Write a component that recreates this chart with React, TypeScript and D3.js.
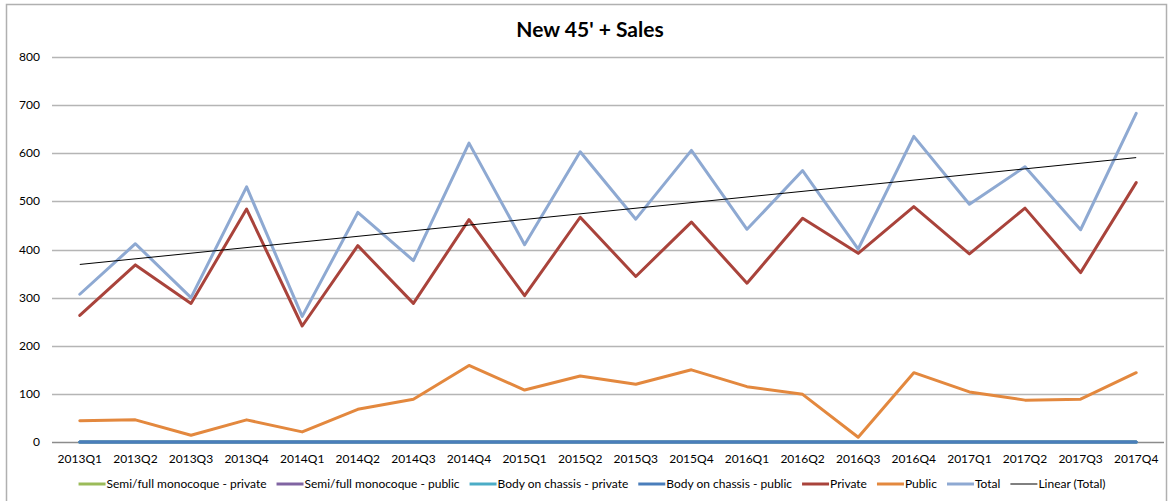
import React, { useEffect, useRef } from "react";
import * as d3 from "d3";

const categories = [
  "2013Q1", "2013Q2", "2013Q3", "2013Q4",
  "2014Q1", "2014Q2", "2014Q3", "2014Q4",
  "2015Q1", "2015Q2", "2015Q3", "2015Q4",
  "2016Q1", "2016Q2", "2016Q3", "2016Q4",
  "2017Q1", "2017Q2", "2017Q3", "2017Q4",
];

const semiPrivate = [0, 0, 0, 0, 0, 0, 0, 0, 0, 0, 0, 0, 0, 0, 0, 0, 0, 0, 0, 0];
const semiPublic = [0, 0, 0, 0, 0, 0, 0, 0, 0, 0, 0, 0, 0, 0, 0, 0, 0, 0, 0, 0];
const bodyPrivate = [0, 0, 0, 0, 0, 0, 0, 0, 0, 0, 0, 0, 0, 0, 0, 0, 0, 0, 0, 0];
const bodyPublic = [0, 0, 0, 0, 0, 0, 0, 0, 0, 0, 0, 0, 0, 0, 0, 0, 0, 0, 0, 0];
const privateSales = [263, 368, 288, 484, 241, 408, 288, 462, 304, 467, 344, 457, 330, 465, 392, 489, 391, 486, 352, 539];
const publicSales = [44, 46, 14, 46, 21, 68, 89, 159, 108, 137, 120, 150, 115, 99, 10, 144, 104, 87, 89, 144];
const totalSales = [307, 412, 300, 530, 261, 477, 377, 621, 410, 603, 463, 606, 442, 564, 401, 635, 494, 572, 441, 683];

const yTicks = [0, 100, 200, 300, 400, 500, 600, 700, 800];

const seriesNames = [
  "Semi/full monocoque - private",
  "Semi/full monocoque - public",
  "Body on chassis - private",
  "Body on chassis - public",
  "Private",
  "Public",
  "Total",
];
const seriesValues = [semiPrivate, semiPublic, bodyPrivate, bodyPublic, privateSales, publicSales, totalSales];
const seriesColors = ["#9BBB59", "#8064A2", "#4BACC6", "#4A7EBB", "#A9433B", "#E3883E", "#8EA9D2"];
const trendName = "Linear (Total)";

const W = 1168;
const H = 501;
const FONT = "Lato, 'Liberation Sans', sans-serif";

export default function App() {
  const ref = useRef<SVGSVGElement | null>(null);

  useEffect(() => {
    const svg = d3.select(ref.current);
    svg.selectAll("*").remove();

    const plotLeft = 52;
    const plotRight = 1164;
    const plotTop = 57;
    const plotBottom = 442;

    const x = d3.scaleBand<string>().domain(categories).range([plotLeft, plotRight]);
    const y = d3.scaleLinear().domain([0, 800]).range([plotBottom, plotTop]);
    const cx = (c: string) => (x(c) as number) + x.bandwidth() / 2;

    // chart border
    svg.append("rect")
      .attr("x", 6.5).attr("y", 4.5)
      .attr("width", W - 8).attr("height", H + 10)
      .attr("fill", "#fff").attr("stroke", "#B0B0B0").attr("stroke-width", 1.5);

    // title
    svg.append("text")
      .attr("x", 590).attr("y", 37)
      .attr("text-anchor", "middle")
      .attr("font-family", FONT).attr("font-weight", "bold").attr("font-size", 21)
      .attr("fill", "#000")
      .text("New 45' + Sales");

    // gridlines
    svg.append("g").selectAll("line").data(yTicks).join("line")
      .attr("x1", plotLeft).attr("x2", plotRight)
      .attr("y1", (d) => Math.round(y(d)) + 0.5).attr("y2", (d) => Math.round(y(d)) + 0.5)
      .attr("stroke", (d) => (d === 0 ? "#8C8C8C" : "#B5B5B5")).attr("stroke-width", 1.3);

    // y labels
    svg.append("g").selectAll("text").data(yTicks).join("text")
      .attr("x", 40).attr("y", (d) => y(d) + 4)
      .attr("text-anchor", "end")
      .attr("font-family", FONT).attr("font-size", 12).attr("fill", "#000")
      .text((d) => String(d));

    // x labels
    svg.append("g").selectAll("text").data(categories).join("text")
      .attr("x", (d) => cx(d)).attr("y", 463)
      .attr("text-anchor", "middle")
      .attr("font-family", FONT).attr("font-size", 12).attr("fill", "#000")
      .text((d) => d);

    // series lines
    const line = d3.line<number>()
      .x((_, i) => cx(categories[i]))
      .y((d) => y(d));

    seriesValues.forEach((vals, si) => {
      svg.append("path")
        .attr("d", line(vals) as string)
        .attr("fill", "none")
        .attr("stroke", seriesColors[si])
        .attr("stroke-width", 3)
        .attr("stroke-linejoin", "round")
        .attr("stroke-linecap", "round");
    });

    // linear trend of total (least squares)
    const n = totalSales.length;
    const xs = d3.range(n);
    const mx = d3.mean(xs) as number;
    const my = d3.mean(totalSales) as number;
    const slope =
      (d3.sum(xs, (i) => (i - mx) * (totalSales[i] - my)) as number) /
      (d3.sum(xs, (i) => (i - mx) * (i - mx)) as number);
    const intercept = my - slope * mx;
    svg.append("line")
      .attr("x1", cx(categories[0])).attr("y1", y(intercept))
      .attr("x2", cx(categories[n - 1])).attr("y2", y(intercept + slope * (n - 1)))
      .attr("stroke", "#000").attr("stroke-width", 1);

    // legend
    const items = seriesNames.map((name, i) => ({ name, color: seriesColors[i], w: 3 }));
    items.push({ name: trendName, color: "#000", w: 1 });
    const lg = svg.append("g");
    const swatch = 27;
    const gap = 10;
    const ly = 484;
    const widths: number[] = [];
    const groups = items.map((it) => {
      const g = lg.append("g");
      g.append("line")
        .attr("x1", 0).attr("x2", swatch).attr("y1", ly).attr("y2", ly)
        .attr("stroke", it.color).attr("stroke-width", it.w);
      const t = g.append("text")
        .attr("x", swatch + 1).attr("y", ly + 4)
        .attr("font-family", FONT).attr("font-size", 12).attr("fill", "#000")
        .text(it.name);
      widths.push(swatch + 1 + (t.node() as SVGTextElement).getComputedTextLength());
      return g;
    });
    const total = d3.sum(widths) + gap * (widths.length - 1);
    let pos = 592 - total / 2;
    groups.forEach((g, i) => {
      g.attr("transform", `translate(${pos},0)`);
      pos += widths[i] + gap;
    });
  }, []);

  return (
    <svg
      ref={ref}
      width={W}
      height={H}
      style={{ position: "absolute", left: 0, top: 0, background: "#fff" }}
    />
  );
}
